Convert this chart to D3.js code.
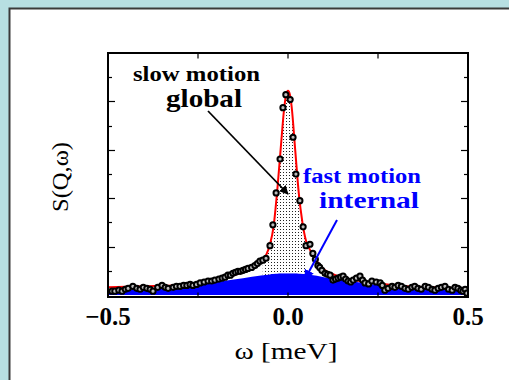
<!DOCTYPE html>
<html>
<head>
<meta charset="utf-8">
<script src="https://cdn.jsdelivr.net/npm/d3@7"></script>
<style>
  html, body { margin: 0; padding: 0; background: #b7dfe2; }
  svg { display: block; }
</style>
</head>
<body>
<svg id="chart" width="509" height="380"></svg>
<script>
// Measured spectrum S(Q,ω): energy transfer (meV) and intensity
const omega = [-0.489,-0.481,-0.470,-0.461,-0.452,-0.444,-0.431,-0.420,-0.411,-0.402,-0.392,-0.383,-0.375,-0.362,-0.350,-0.341,-0.333,-0.319,-0.310,-0.300,-0.290,-0.281,-0.272,-0.264,-0.254,-0.244,-0.233,-0.222,-0.212,-0.203,-0.192,-0.183,-0.175,-0.167,-0.160,-0.153,-0.146,-0.139,-0.132,-0.125,-0.118,-0.111,-0.101,-0.092,-0.085,-0.078,-0.070,-0.061,
  -0.050,-0.042,-0.033,-0.022,-0.014,-0.006,0.006,0.014,0.022,0.033,0.042,0.050,0.061,
  0.069,0.076,0.083,0.088,0.094,0.103,0.110,0.117,0.125,0.132,0.139,0.146,0.153,0.160,0.167,0.174,0.181,0.190,0.200,0.207,0.214,0.224,0.233,0.245,0.256,0.262,0.269,0.278,0.289,0.297,0.306,0.315,0.325,0.334,0.344,0.352,0.361,0.370,0.381,0.390,0.400,0.408,0.417,0.426,0.436,0.446,0.456,0.464,0.472,0.480,0.486,0.492,0.497];
const intensity = [0.08,0.08,0.10,0.08,0.12,0.14,0.18,0.14,0.12,0.16,0.14,0.12,0.08,0.16,0.20,0.16,0.14,0.16,0.18,0.18,0.20,0.20,0.22,0.20,0.22,0.25,0.27,0.29,0.29,0.31,0.33,0.35,0.37,0.41,0.41,0.45,0.47,0.49,0.49,0.51,0.53,0.55,0.57,0.61,0.65,0.70,0.72,0.76,
  1.02,1.45,2.11,2.81,3.87,4.14,4.04,3.26,2.50,1.95,1.41,1.02,1.05,
  0.86,0.74,0.61,0.57,0.51,0.45,0.43,0.41,0.31,0.33,0.35,0.37,0.39,0.33,0.29,0.27,0.31,0.35,0.39,0.31,0.25,0.23,0.29,0.27,0.25,0.20,0.10,0.14,0.18,0.16,0.20,0.18,0.14,0.12,0.16,0.18,0.14,0.12,0.18,0.16,0.12,0.10,0.14,0.16,0.18,0.12,0.10,0.16,0.14,0.10,0.08,0.12,0.04];

// Model curves on a common energy grid: total fit and the broad (fast, internal) component
const fitOmega = [-0.5,-0.4,-0.3,-0.25,-0.2,-0.15,-0.1,-0.08,-0.07,-0.06,-0.05,-0.04,-0.03,-0.02,-0.01,-0.005,0,0.005,0.01,0.02,0.03,0.04,0.05,0.06,0.07,0.08,0.1,0.125,0.15,0.2,0.25,0.3,0.4,0.5];
const fitTotal = [0.16,0.18,0.21,0.25,0.31,0.41,0.56,0.66,0.73,0.84,1.05,1.42,2.15,3.05,3.9,4.15,4.22,4.15,3.9,3.0,2.1,1.5,1.12,0.95,0.82,0.7,0.53,0.43,0.37,0.29,0.24,0.2,0.16,0.14];
const fitFast = [0.09,0.13,0.18,0.22,0.27,0.32,0.38,0.40,0.41,0.42,0.43,0.44,0.445,0.45,0.45,0.45,0.45,0.45,0.45,0.45,0.445,0.44,0.43,0.42,0.41,0.40,0.37,0.34,0.31,0.26,0.21,0.17,0.12,0.08];

// Energy window of the shaded slow (global) component
const slowRange = [-0.07, 0.048];

const xTicksLabelled = [-0.5, 0.0, 0.5];
const xTicksMinor = [-0.25, 0, 0.25];
const yTicksMajor = [1, 2, 3, 4];
const yTicksMinor = [0.5, 1.5, 2.5, 3.5, 4.5];

const svg = d3.select("#chart");

// Page panel
svg.append("rect").attr("x", 0).attr("y", 0).attr("width", 509).attr("height", 380).attr("fill", "#b7dfe2");
svg.append("rect").attr("x", 9.5).attr("y", 8.5).attr("width", 520).attr("height", 400)
  .attr("fill", "#ffffff").attr("stroke", "#3a3a3a").attr("stroke-width", 2);

const plot = { left: 108, right: 468, top: 53, bottom: 297 };
const x = d3.scaleLinear().domain([-0.5, 0.5]).range([plot.left, plot.right]);
const y = d3.scaleLinear().domain([-0.04, 5]).range([plot.bottom, plot.top]);

const defs = svg.append("defs");
defs.append("clipPath").attr("id", "plotClip")
  .append("rect").attr("x", plot.left).attr("y", plot.top)
  .attr("width", plot.right - plot.left).attr("height", plot.bottom - plot.top);
const pat = defs.append("pattern").attr("id", "stipple").attr("patternUnits", "userSpaceOnUse")
  .attr("width", 3).attr("height", 3);
pat.append("rect").attr("width", 3).attr("height", 3).attr("fill", "#ffffff");
pat.append("rect").attr("x", 1).attr("y", 1).attr("width", 1).attr("height", 1).attr("fill", "#222");

const arrowBlack = defs.append("marker").attr("id", "headBlack").attr("viewBox", "0 0 10 10")
  .attr("refX", 9).attr("refY", 5).attr("markerWidth", 5).attr("markerHeight", 5).attr("orient", "auto");
arrowBlack.append("path").attr("d", "M0,0 L10,5 L0,10 Z").attr("fill", "#000");
const arrowBlue = defs.append("marker").attr("id", "headBlue").attr("viewBox", "0 0 10 10")
  .attr("refX", 9).attr("refY", 5).attr("markerWidth", 5).attr("markerHeight", 5).attr("orient", "auto");
arrowBlue.append("path").attr("d", "M0,0 L10,5 L0,10 Z").attr("fill", "#0000ff");

const fit = fitOmega.map((w, i) => ({ w, total: fitTotal[i], fast: fitFast[i] }));
const g = svg.append("g").attr("clip-path", "url(#plotClip)");

// Broad component
g.append("path").datum(fit)
  .attr("d", d3.area().x(d => x(d.w)).y0(y(0)).y1(d => y(d.fast)).curve(d3.curveMonotoneX))
  .attr("fill", "#0000ff");

// Narrow component, stippled between the broad component and the total fit
g.append("clipPath").attr("id", "slowClip").append("rect")
  .attr("x", x(slowRange[0])).attr("y", plot.top)
  .attr("width", x(slowRange[1]) - x(slowRange[0])).attr("height", plot.bottom - plot.top);
g.append("g").attr("clip-path", "url(#slowClip)").append("path").datum(fit)
  .attr("d", d3.area().x(d => x(d.w)).y0(d => y(d.fast)).y1(d => y(d.total)).curve(d3.curveMonotoneX))
  .attr("fill", "url(#stipple)");

// Total fit
g.append("path").datum(fit)
  .attr("d", d3.line().x(d => x(d.w)).y(d => y(d.total)).curve(d3.curveMonotoneX))
  .attr("fill", "none").attr("stroke", "#ff0000").attr("stroke-width", 2);

// Data points
g.selectAll("circle.pt").data(omega.map((w, i) => ({ w, s: intensity[i] })))
  .enter().append("circle").attr("class", "pt")
  .attr("cx", d => x(d.w)).attr("cy", d => y(d.s)).attr("r", 2.6)
  .attr("fill", "#bbbbbb").attr("stroke", "#000").attr("stroke-width", 2);

// Frame and inward ticks
const frame = svg.append("g");
frame.append("rect").attr("x", plot.left).attr("y", plot.top)
  .attr("width", plot.right - plot.left).attr("height", plot.bottom - plot.top)
  .attr("fill", "none").attr("stroke", "#000").attr("stroke-width", 2);

const tickLines = [];
yTicksMajor.forEach(v => {
  tickLines.push([plot.left, y(v), plot.left + 7, y(v)]);
  tickLines.push([plot.right, y(v), plot.right - 7, y(v)]);
});
yTicksMinor.forEach(v => {
  tickLines.push([plot.left, y(v), plot.left + 4, y(v)]);
  tickLines.push([plot.right, y(v), plot.right - 4, y(v)]);
});
xTicksMinor.forEach(v => {
  tickLines.push([x(v), plot.top, x(v), plot.top + 5]);
  tickLines.push([x(v), plot.bottom, x(v), plot.bottom - 5]);
});
frame.selectAll("line.tk").data(tickLines).enter().append("line").attr("class", "tk")
  .attr("x1", d => d[0]).attr("y1", d => Math.round(d[1]) + 0.5)
  .attr("x2", d => d[2]).attr("y2", d => Math.round(d[3]) + 0.5)
  .attr("stroke", "#000").attr("stroke-width", 1.2);

// Tick labels
const fmt = v => (v < 0 ? "\u2212" : "") + Math.abs(v).toFixed(1);
svg.selectAll("text.xt").data(xTicksLabelled).enter().append("text").attr("class", "xt")
  .attr("x", d => x(d)).attr("y", 325).attr("text-anchor", "middle")
  .attr("font-family", "Liberation Serif, serif").attr("font-weight", "bold").attr("font-size", 25)
  .text(fmt);

// Axis titles
svg.append("text").attr("x", 286).attr("y", 359).attr("text-anchor", "middle")
  .attr("font-family", "Liberation Serif, serif").attr("font-size", 24)
  .attr("textLength", 103).attr("lengthAdjust", "spacingAndGlyphs")
  .text("\u03c9 [meV]");
svg.append("text").attr("transform", "translate(68,177) rotate(-90)").attr("text-anchor", "middle")
  .attr("font-family", "Liberation Serif, serif").attr("font-size", 23)
  .attr("textLength", 70).attr("lengthAdjust", "spacingAndGlyphs")
  .text("S(Q,\u03c9)");

// Annotations
function label(txt, x0, base, size, width, color) {
  svg.append("text").attr("x", x0).attr("y", base)
    .attr("font-family", "Liberation Serif, serif").attr("font-weight", "bold").attr("font-size", size)
    .attr("textLength", width).attr("lengthAdjust", "spacingAndGlyphs")
    .attr("fill", color).text(txt);
}
label("slow motion", 133, 81, 20, 127, "#000");
label("global", 166, 107, 26, 76, "#000");
label("fast motion", 303, 183, 20, 118, "#0000ff");
label("internal", 319, 208, 24, 100, "#0000ff");

svg.append("line").attr("x1", 208).attr("y1", 111).attr("x2", 288).attr("y2", 194)
  .attr("stroke", "#000").attr("stroke-width", 1.8).attr("marker-end", "url(#headBlack)");
svg.append("line").attr("x1", 337).attr("y1", 220).attr("x2", 305).attr("y2", 279)
  .attr("stroke", "#0000ff").attr("stroke-width", 2).attr("marker-end", "url(#headBlue)");
</script>
</body>
</html>
